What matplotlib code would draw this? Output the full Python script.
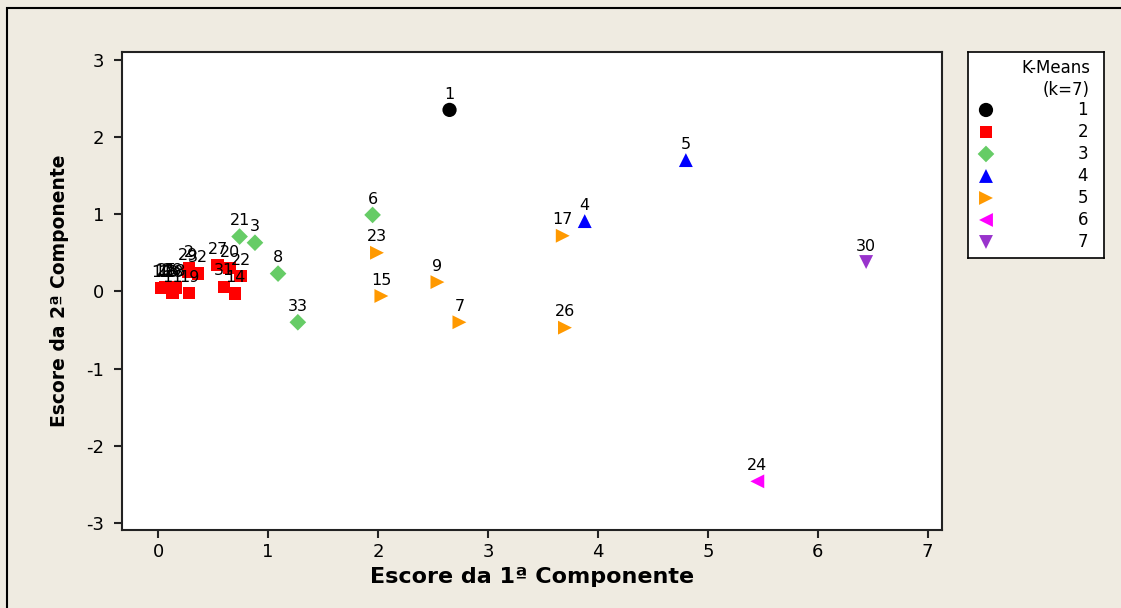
import numpy as np
import matplotlib.pyplot as plt
from matplotlib.patches import Rectangle

plt.rcParams['axes.unicode_minus'] = False

# observation id, cluster, scores on PC1 / PC2
obs_id = [1, 2, 3, 4, 5, 6, 7, 8, 9, 10, 11, 12, 13, 14, 15, 16, 17,
          18, 19, 20, 21, 22, 23, 24, 25, 26, 27, 28, 29, 30, 31, 32, 33]
cluster = [1, 2, 3, 4, 4, 3, 5, 3, 5, 2, 2, 2, 2, 2, 5, 2, 5,
           2, 2, 2, 3, 2, 5, 6, 2, 5, 2, 2, 2, 7, 2, 2, 3]
pc1 = [2.65, 0.28, 0.88, 3.88, 4.80, 1.95, 2.74, 1.09, 2.54, 0.03, 0.13, 0.06, 0.09,
       0.70, 2.03, 0.12, 3.68, 0.16, 0.28, 0.65, 0.74, 0.75, 1.99, 5.45, 0.08, 3.70,
       0.54, 0.14, 0.27, 6.44, 0.60, 0.36, 1.27]
pc2 = [2.35, 0.30, 0.63, 0.91, 1.70, 0.99, -0.40, 0.23, 0.12, 0.04, -0.02, 0.05, 0.04,
       -0.03, -0.06, 0.06, 0.72, 0.05, -0.02, 0.30, 0.71, 0.20, 0.50, -2.46, 0.06, -0.47,
       0.34, 0.04, 0.26, 0.38, 0.06, 0.23, -0.40]

cluster_names = ['1', '2', '3', '4', '5', '6', '7']
cluster_markers = ['o', 's', 'D', '^', '>', '<', 'v']
cluster_colors = ['#000000', '#FF0000', '#66CC66', '#0000FF', '#FF9900', '#FF00FF', '#9933CC']

bg = '#EFEBE1'
fig = plt.figure(figsize=(11.21, 6.08), dpi=100, facecolor=bg)
fig.patches.append(Rectangle((7 / 1121, -0.1), 1.2, 1 - 8 / 608 + 0.1, transform=fig.transFigure,
                             fill=False, edgecolor='black', lw=1.5))

ax = fig.add_axes([0.1088, 0.1283, 0.7315, 0.7862])
ax.set_facecolor('white')

pc1 = np.array(pc1)
pc2 = np.array(pc2)
cluster = np.array(cluster)
sizes = [105, 80, 72, 100, 100, 100, 100]
for k, (m, c) in enumerate(zip(cluster_markers, cluster_colors)):
    sel = cluster == k + 1
    ax.scatter(pc1[sel], pc2[sel], marker=m, s=sizes[k], color=c, edgecolors='none', zorder=3)

for i, x, y in zip(obs_id, pc1, pc2):
    ax.annotate(str(i), (x, y), xytext=(0, 6), textcoords='offset points',
                ha='center', va='bottom', fontsize=11.5, zorder=4)

ax.set_xlim(-0.33, 7.13)
ax.set_ylim(-3.09, 3.1)
ax.set_xticks(range(0, 8))
ax.set_yticks(range(-3, 4))
ax.tick_params(direction='out', length=6, width=1.5, labelsize=13, color='#222222')
ax.tick_params(axis='y', pad=7)
for s in ax.spines.values():
    s.set_linewidth(1.5)
    s.set_color('#222222')
ax.set_xlabel('Escore da 1ª Componente', fontsize=16, fontweight='bold', labelpad=4)
ax.set_ylabel('Escore da 2ª Componente', fontsize=13.5, fontweight='bold', labelpad=12)

# legend box
lg = fig.add_axes([0.8635, 0.5757, 0.1213, 0.3388])
lg.set_facecolor('white')
lg.set_xlim(0, 136)
lg.set_ylim(206, 0)
lg.set_xticks([])
lg.set_yticks([])
for s in lg.spines.values():
    s.set_linewidth(1.2)
    s.set_color('black')
lg.text(122, 16, 'K-Means', ha='right', va='center', fontsize=12)
lg.text(122, 38, '(k=7)', ha='right', va='center', fontsize=12)
for k, (name, m, c) in enumerate(zip(cluster_names, cluster_markers, cluster_colors)):
    yy = 58 + 22 * k
    lg.scatter([18], [yy], marker=m, s=sizes[k], color=c, edgecolors='none', clip_on=False)
    lg.text(120, yy, name, ha='right', va='center', fontsize=12)

fig.savefig('out.png', dpi=100, facecolor=bg)
